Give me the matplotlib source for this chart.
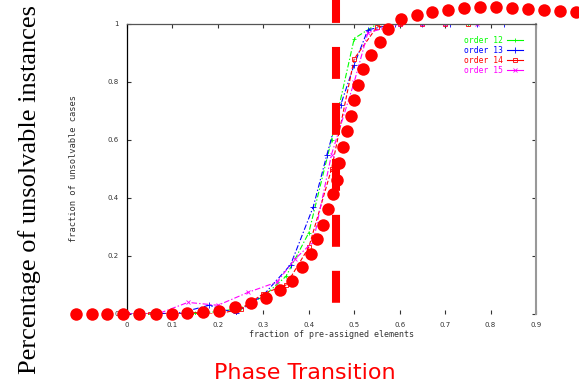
import matplotlib
matplotlib.use("Agg")
import matplotlib.pyplot as plt

plt.rcParams['lines.scale_dashes'] = False

# ---- data ----
x12 = [0, 0.05, 0.1, 0.15, 0.2, 0.25, 0.3, 0.35, 0.4, 0.45, 0.5, 0.55, 0.6, 0.65, 0.7, 0.75]
y12 = [0, 0, 0, 0.003, 0.008, 0.02, 0.06, 0.13, 0.28, 0.6, 0.95, 1, 1, 1, 1, 1]

x13 = [0, 0.06, 0.12, 0.18, 0.24, 0.3, 0.36, 0.41, 0.44, 0.47, 0.5, 0.53, 0.59, 0.65, 0.71, 0.77, 0.83]
y13 = [0, 0, 0.005, 0.03, 0.003, 0.065, 0.17, 0.37, 0.55, 0.72, 0.86, 0.98, 1, 1, 1, 1, 1]

x14 = [0, 0.05, 0.1, 0.15, 0.2, 0.25, 0.3, 0.35, 0.4, 0.45, 0.5, 0.55, 0.6, 0.65, 0.7, 0.75]
y14 = [0, 0, 0, 0, 0, 0.017, 0.07, 0.1, 0.23, 0.5, 0.88, 0.99, 1, 1, 1, 1]

x15 = [0, 0.067, 0.134, 0.2, 0.267, 0.33, 0.37, 0.41, 0.45, 0.5, 0.53, 0.6, 0.65, 0.7, 0.77]
y15 = [0, 0, 0.04, 0.03, 0.075, 0.11, 0.19, 0.25, 0.55, 0.8, 0.97, 1, 1, 1, 1]

series_labels = ["order 12", "order 13", "order 14", "order 15"]

# overlay sigmoid dots (in the same data units as the inner axes)
dot_x = [-0.112, -0.077, -0.044, -0.009, 0.026, 0.064, 0.099, 0.132, 0.167, 0.202,
         0.238, 0.273, 0.306, 0.337, 0.363, 0.385, 0.405, 0.418, 0.431, 0.442,
         0.453, 0.462, 0.467, 0.475, 0.484, 0.493, 0.500, 0.508, 0.519, 0.537,
         0.557, 0.574, 0.603, 0.638, 0.671, 0.706, 0.742, 0.777, 0.812, 0.847,
         0.882, 0.918, 0.953, 0.988]
dot_y = [0, 0, 0, 0, 0, 0, 0, 0.003, 0.007, 0.010,
         0.024, 0.038, 0.055, 0.083, 0.114, 0.162, 0.207, 0.259, 0.307, 0.362,
         0.414, 0.462, 0.521, 0.576, 0.631, 0.683, 0.738, 0.790, 0.845, 0.893,
         0.938, 0.983, 1.017, 1.031, 1.041, 1.048, 1.055, 1.059, 1.059, 1.055,
         1.052, 1.048, 1.045, 1.041]

transition_x = 0.46
transition_y = [1.0828, 0.038]

xticks = [0, 0.1, 0.2, 0.3, 0.4, 0.5, 0.6, 0.7, 0.8, 0.9]
xticklabels = ["0", "0.1", "0.2", "0.3", "0.4", "0.5", "0.6", "0.7", "0.8", "0.9"]
yticks = [0, 0.2, 0.4, 0.6, 0.8, 1]
yticklabels = ["0", "0.2", "0.4", "0.6", "0.8", "1"]

# ---- figure ----
fig = plt.figure(figsize=(5.79, 3.82), dpi=100)
ax = fig.add_axes([127/579, 68/382, 409/579, 290/382])
ax.set_xlim(0, 0.9)
ax.set_ylim(0, 1)

lw = 0.8
ax.plot(x12, y12, color="#00ff00", lw=lw, ls=(0, (4, 1.5, 1, 1.5)), marker="+", ms=3, mew=0.6, label=series_labels[0])
ax.plot(x13, y13, color="#0000ff", lw=lw, ls=(0, (4, 1.5, 1, 1.5)), marker="+", ms=4, mew=0.6, label=series_labels[1])
ax.plot(x14, y14, color="#ff0000", lw=lw, ls=(0, (3, 1.5)), marker="s", ms=3, mew=0.6, mfc="none", label=series_labels[2])
ax.plot(x15, y15, color="#ff00ff", lw=lw, ls=(0, (4, 1.5, 1, 1.5)), marker="x", ms=3, mew=0.6, label=series_labels[3])

leg = ax.legend(loc="upper right", bbox_to_anchor=(1 - 9/409, 1 - 8/290), frameon=False,
                prop={"family": "DejaVu Sans Mono", "size": 5.8}, markerfirst=False,
                handlelength=2.0, handletextpad=0.5, labelspacing=0.12, borderpad=0)
for t, l in zip(leg.get_texts(), leg.get_lines()):
    t.set_color(l.get_color())
for l in leg.get_lines():
    l.set_linestyle("-")

ax.set_xticks(xticks)
ax.set_xticklabels(xticklabels)
ax.set_yticks(yticks)
ax.set_yticklabels(yticklabels)
ax.tick_params(direction="in", length=3, width=0.8, labelsize=5, colors="#333333",
               top=True, right=True, pad=6)
ax.spines["bottom"].set_visible(False)
ax.spines["left"].set_color("black")
ax.spines["left"].set_linewidth(0.9)
ax.spines["top"].set_color("#555555")
ax.spines["top"].set_linewidth(0.9)
ax.spines["right"].set_color("#999999")
ax.spines["right"].set_linewidth(1.5)
ax.set_xlabel("fraction of pre-assigned elements", fontsize=6, family="DejaVu Sans Mono",
              color="#333333", labelpad=1)
ax.set_ylabel("fraction of unsolvable cases", fontsize=6.3, family="DejaVu Sans Mono",
              color="#333333", labelpad=21)

# overlay: dashed transition line and red dots
ax.plot([transition_x, transition_x], transition_y, color="red", lw=5.8,
        ls=(6.5, (23.0, 17.3)), solid_capstyle="butt", dash_capstyle="butt", clip_on=False, zorder=5)
ax.plot(dot_x, dot_y, "o", color="red", ms=9, mec="none", clip_on=False, zorder=6)

fig.text(30/579, 1 - 190/382, "Percentage of unsolvable instances", rotation=90,
         ha="center", va="center", fontsize=19, family="Liberation Serif")
fig.text(305/579, 1 - 373/382, "Phase Transition", ha="center", va="center",
         fontsize=16, color="red", family="DejaVu Sans")

fig.savefig("out.png", dpi=100)
